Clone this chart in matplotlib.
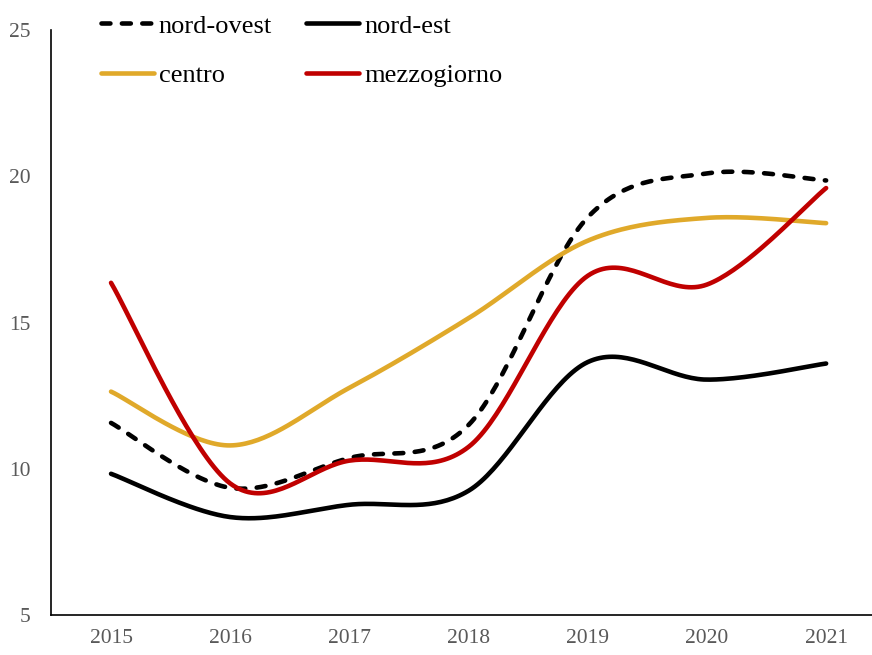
import numpy as np
import matplotlib.pyplot as plt

years = ['2015', '2016', '2017', '2018', '2019', '2020', '2021']
nord_ovest = [11.57, 9.35, 10.37, 11.5, 18.6, 20.1, 19.86]
nord_est = [9.83, 8.35, 8.77, 9.25, 13.65, 13.05, 13.6]
centro = [12.64, 10.8, 12.77, 15.15, 17.8, 18.58, 18.4]
mezzogiorno = [16.36, 9.5, 10.28, 10.75, 16.6, 16.3, 19.6]

plt.rcParams['font.family'] = ['Liberation Serif', 'DejaVu Serif']


def smooth(y, n=40):
    # excel-like smoothed line (catmull-rom bezier between the points)
    x = np.arange(len(y), dtype=float)
    y = np.asarray(y, dtype=float)
    xs, ys = [], []
    for i in range(len(y) - 1):
        p0 = (x[max(i - 1, 0)], y[max(i - 1, 0)])
        p1 = (x[i], y[i])
        p2 = (x[i + 1], y[i + 1])
        p3 = (x[min(i + 2, len(y) - 1)], y[min(i + 2, len(y) - 1)])
        c1 = (p1[0] + (p2[0] - p0[0]) / 6, p1[1] + (p2[1] - p0[1]) / 6)
        c2 = (p2[0] - (p3[0] - p1[0]) / 6, p2[1] - (p3[1] - p1[1]) / 6)
        t = np.linspace(0, 1, n)
        bx = (1-t)**3*p1[0] + 3*(1-t)**2*t*c1[0] + 3*(1-t)*t**2*c2[0] + t**3*p2[0]
        by = (1-t)**3*p1[1] + 3*(1-t)**2*t*c1[1] + 3*(1-t)*t**2*c2[1] + t**3*p2[1]
        xs.extend(bx)
        ys.extend(by)
    return np.array(xs), np.array(ys)


fig = plt.figure(figsize=(8.72, 6.55), dpi=100)
ax = fig.add_axes([0.059, 0.061, 0.941, 0.893])

series = [
    (nord_ovest, 'nord-ovest', 'black', (0, (1.95, 2.5))),
    (nord_est, 'nord-est', 'black', '-'),
    (centro, 'centro', '#E0A92A', '-'),
    (mezzogiorno, 'mezzogiorno', '#C00000', '-'),
]
lines = {}
for vals, lab, col, ls in series:
    sx, sy = smooth(vals)
    lines[lab], = ax.plot(sx, sy, color=col, lw=3.3, ls=ls, label=lab,
                          solid_capstyle='round', dash_capstyle='round')

ax.set_xlim(-0.5, 6.385)
ax.set_ylim(5, 25)
ax.set_yticks([5, 10, 15, 20, 25])
ax.set_xticks(range(len(years)))
ax.set_xticklabels(years)
ax.tick_params(length=0, labelsize=15.5, colors='#595959', pad=10)
ax.tick_params(axis='y', pad=15)
for s in ['top', 'right']:
    ax.spines[s].set_visible(False)
ax.spines['left'].set_linewidth(1.2)
ax.spines['bottom'].set_linewidth(1.2)

# legend filled row by row like the original
order = ['nord-ovest', 'centro', 'nord-est', 'mezzogiorno']
ax.legend([lines[k] for k in order], order, loc='upper left',
          bbox_to_anchor=(0.044, 1.05), ncol=2, frameon=False, borderpad=0,
          fontsize=19, handlelength=2.0, handletextpad=0.2, columnspacing=1.3,
          labelspacing=0.98)

plt.savefig('out.png')
